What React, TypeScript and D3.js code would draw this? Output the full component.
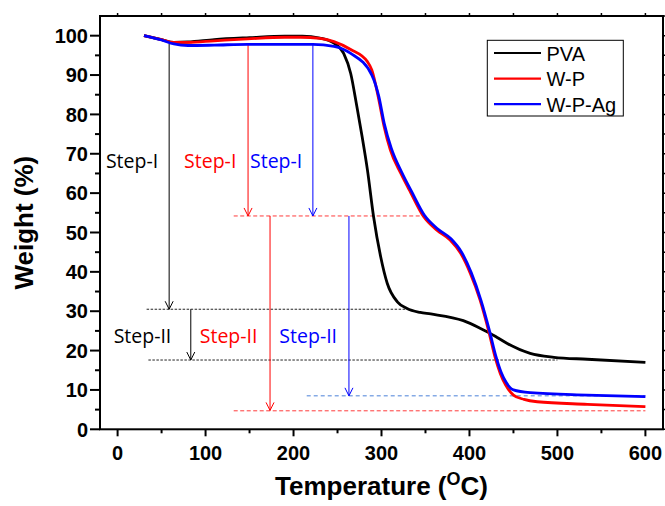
import * as d3 from "d3";

// TGA curves: temperature (°C) vs weight (%)
const PVA_T = [30, 50, 64, 80, 110, 150, 190, 210, 230, 246, 257, 265, 272, 278, 284, 291, 299, 306.5, 318, 329, 344, 356, 393, 412, 420, 431, 443, 469, 496, 534, 600];
const PVA_W = [100, 99.0, 98.3, 98.4, 99.0, 99.5, 99.9, 99.9, 99.4, 98.1, 95.5, 90.4, 82, 74.3, 65.9, 54, 43.9, 37.1, 32.4, 30.7, 29.7, 29.3, 27.6, 25.7, 24.8, 23.4, 21.8, 19.3, 18.3, 17.8, 17.0];

const WP_T = [30, 50, 64, 80, 110, 148, 190, 208, 230, 246, 265, 284, 289, 297, 303, 310, 322, 333, 348, 363, 378, 390, 401, 412, 422, 429, 435, 441, 450, 462, 477, 534, 600];
const WP_W = [100, 99.0, 98.3, 98.3, 98.7, 99.2, 99.6, 99.6, 99.3, 98.5, 96.5, 93.4, 91.3, 83.7, 76.9, 71, 65, 60.2, 54, 50.6, 48.1, 44.7, 39.6, 32.9, 24.8, 18.4, 14.2, 11.3, 8.7, 7.6, 7.0, 6.35, 5.75];

const WPAG_T = [30, 50, 64, 80, 110, 148, 190, 222, 246, 265, 289, 297, 303, 311, 323, 334, 349, 364, 379, 391, 402, 413, 423, 430, 436, 442, 450, 469, 534, 600];
const WPAG_W = [100, 98.9, 97.9, 97.5, 97.6, 97.8, 97.8, 97.8, 97.3, 95.5, 90, 84.5, 77.8, 71.5, 65.3, 60.5, 54.3, 50.9, 48.4, 45, 39.8, 32.8, 24.8, 18.6, 14.5, 11.8, 10.0, 9.3, 8.7, 8.3];

const SERIES = ["PVA", "W-P", "W-P-Ag"];
const X_TICKS = [0, 100, 200, 300, 400, 500, 600];
const Y_TICKS = [0, 10, 20, 30, 40, 50, 60, 70, 80, 90, 100];

// annotations in data units
const ARROWS = [
  { t: 58.6, from: 98, to: 30.5, c: "black" },
  { t: 148.3, from: 98, to: 54.2, c: "red" },
  { t: 222, from: 97.8, to: 54.2, c: "blue" },
  { t: 83.2, from: 30.5, to: 17.6, c: "black" },
  { t: 173.3, from: 54.2, to: 4.8, c: "red" },
  { t: 263, from: 54.2, to: 8.5, c: "blue" },
];
const GUIDES = [
  { w: 30.5, t0: 33, t1: 327, c: "black" },
  { w: 17.6, t0: 35, t1: 500, c: "black" },
  { w: 54.2, t0: 132, t1: 352, c: "red" },
  { w: 4.7, t0: 132, t1: 600, c: "red" },
  { w: 8.5, t0: 215, t1: 600, c: "blue" },
];
const LABELS = [
  { text: "Step-I", t: -13.3, w: 66.4, c: "black" },
  { text: "Step-I", t: 75.6, w: 66.4, c: "red" },
  { text: "Step-I", t: 150.5, w: 66.4, c: "blue" },
  { text: "Step-II", t: -4.5, w: 22.0, c: "black" },
  { text: "Step-II", t: 93.4, w: 22.0, c: "red" },
  { text: "Step-II", t: 183.9, w: 22.0, c: "blue" },
];

const COLORS: Record<string, string> = { black: "#000000", red: "#ff0000", blue: "#0000ff" };
const GUIDE_STYLE: Record<string, { stroke: string; dash: string }> = {
  black: { stroke: "#222222", dash: "2.5,1.5" },
  red: { stroke: "#ff3b3b", dash: "4,2.5" },
  blue: { stroke: "#4a80d8", dash: "4,3" },
};

export default function App() {
  const W = 665, H = 506;
  const left = 100, right = 663, top = 16, bottom = 429.3;
  const x = d3.scaleLinear().domain([-20, 620]).range([left, right]);
  const y = d3.scaleLinear().domain([0, 105]).range([bottom, top]);
  const line = d3.line<number>().curve(d3.curveMonotoneX);

  const mk = (ts: number[], ws: number[]) => line(ts.map((t, i) => [x(t), y(ws[i])] as any) as any) || "";
  const paths = [
    { d: mk(PVA_T, PVA_W), c: COLORS.black },
    { d: mk(WP_T, WP_W), c: COLORS.red },
    { d: mk(WPAG_T, WPAG_W), c: COLORS.blue },
  ];

  const xMinor = d3.range(0, 601, 50).filter((v) => v % 100 !== 0);
  const yMinor = d3.range(5, 101, 10);
  const topTicks = d3.range(0, 601, 50);
  const rightTicks = d3.range(0, 106, 5);
  const font = "'Liberation Sans', Arial, sans-serif";

  return (
    <svg width={W} height={H} style={{ position: "absolute", left: 0, top: 0, background: "white" }}>
      {/* guide dashed lines */}
      {GUIDES.map((g, i) => (
        <line key={"g" + i} x1={x(g.t0)} x2={x(g.t1)} y1={y(g.w)} y2={y(g.w)}
          stroke={GUIDE_STYLE[g.c].stroke} strokeWidth={1} strokeDasharray={GUIDE_STYLE[g.c].dash} />
      ))}
      {/* arrows */}
      {ARROWS.map((a, i) => {
        const ax = x(a.t), y0 = y(a.from), y1 = y(a.to);
        return (
          <g key={"a" + i} stroke={COLORS[a.c]} strokeWidth={1} fill="none">
            <line x1={ax} x2={ax} y1={y0} y2={y1} />
            <path d={`M${ax - 4},${y1 - 8} L${ax},${y1} L${ax + 4},${y1 - 8}`} />
          </g>
        );
      })}
      {/* step labels */}
      {LABELS.map((l, i) => (
        <text key={"l" + i} x={x(l.t)} y={y(l.w)} fill={COLORS[l.c]}
          fontFamily="'Open Sans', sans-serif" fontSize={19.5}>{l.text}</text>
      ))}
      {/* curves */}
      {paths.map((p, i) => (
        <path key={"p" + i} d={p.d} fill="none" stroke={p.c} strokeWidth={2.8} strokeLinejoin="round" />
      ))}
      {/* frame */}
      <rect x={left} y={top} width={right - left} height={bottom - top} fill="none" stroke="black" strokeWidth={2} />
      {/* bottom ticks */}
      {X_TICKS.map((t) => (
        <line key={"xt" + t} x1={x(t)} x2={x(t)} y1={bottom} y2={bottom + 7} stroke="black" strokeWidth={2} />
      ))}
      {xMinor.map((t) => (
        <line key={"xm" + t} x1={x(t)} x2={x(t)} y1={bottom} y2={bottom + 4} stroke="black" strokeWidth={2} />
      ))}
      {topTicks.map((t) => (
        <line key={"tt" + t} x1={x(t)} x2={x(t)} y1={top} y2={top - 3} stroke="black" strokeWidth={1.5} />
      ))}
      {X_TICKS.map((t) => (
        <text key={"xl" + t} x={x(t)} y={bottom + 31} textAnchor="middle" fontFamily={font}
          fontWeight="bold" fontSize={20}>{t}</text>
      ))}
      {/* left ticks */}
      {Y_TICKS.map((v) => (
        <line key={"yt" + v} x1={left - 10} x2={left} y1={y(v)} y2={y(v)} stroke="black" strokeWidth={2} />
      ))}
      {yMinor.map((v) => (
        <line key={"ym" + v} x1={left - 5} x2={left} y1={y(v)} y2={y(v)} stroke="black" strokeWidth={2} />
      ))}
      {rightTicks.map((v) => (
        <line key={"rt" + v} x1={right} x2={right + 3} y1={y(v)} y2={y(v)} stroke="black" strokeWidth={1.5} />
      ))}
      {Y_TICKS.map((v) => (
        <text key={"yl" + v} x={88} y={y(v)} dy="0.36em" textAnchor="end" fontFamily={font}
          fontWeight="bold" fontSize={20}>{v}</text>
      ))}
      {/* axis titles */}
      <text transform={`translate(33,${(top + bottom) / 2}) rotate(-90)`} textAnchor="middle"
        fontFamily={font} fontWeight="bold" fontSize={26}>Weight (%)</text>
      <text x={(left + right) / 2} y={495} textAnchor="middle" fontFamily={font} fontWeight="bold" fontSize={26}>
        Temperature (<tspan fontSize={18} dy={-10}>O</tspan><tspan dy={10}>C)</tspan>
      </text>
      {/* legend */}
      <rect x={487.3} y={40.3} width={136} height={75.7} fill="white" stroke="black" strokeWidth={1} />
      {SERIES.map((s, i) => {
        const ly = 53 + i * 25.6;
        const c = [COLORS.black, COLORS.red, COLORS.blue][i];
        return (
          <g key={"lg" + s}>
            <line x1={494} x2={541} y1={ly} y2={ly} stroke={c} strokeWidth={2.2} />
            <text x={546.5} y={ly + 7.5} fontFamily={font} fontSize={20}>{s}</text>
          </g>
        );
      })}
    </svg>
  );
}
